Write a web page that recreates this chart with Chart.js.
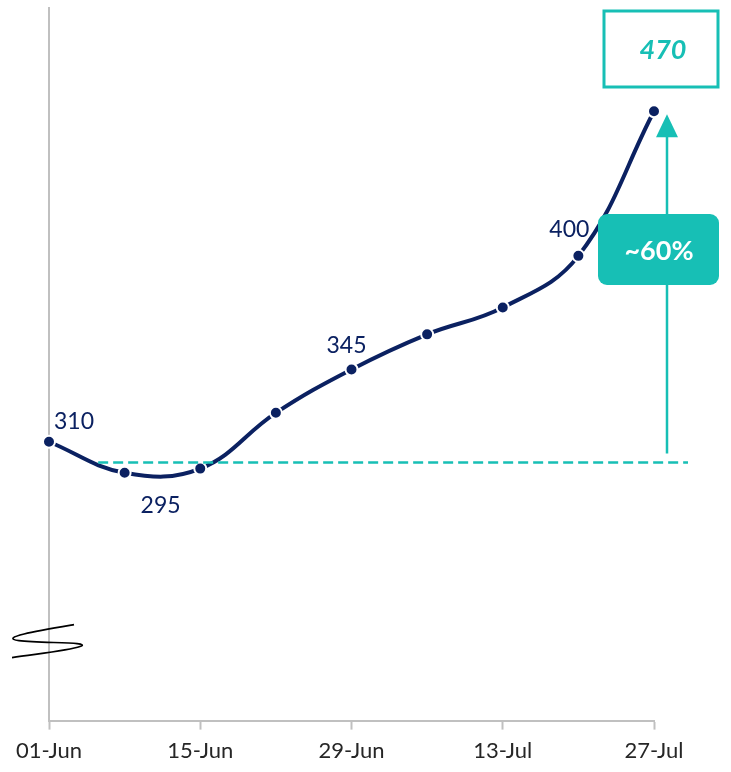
<!DOCTYPE html>
<html>
<head>
<meta charset="utf-8">
<script src="https://cdn.jsdelivr.net/npm/chart.js@4.4.1/dist/chart.umd.min.js"></script>
<style>
  html, body { margin: 0; padding: 0; background: #fff; }
  .wrap { width: 731px; height: 772px; position: relative; }
</style>
</head>
<body>
<div class="wrap"><canvas id="growth"></canvas></div>
<script>
// weekly readings
const weeks = ['01-Jun', '08-Jun', '15-Jun', '22-Jun', '29-Jun', '06-Jul', '13-Jul', '20-Jul', '27-Jul'];
const values = [310, 295, 297, 324, 345, 362, 375, 400, 470];
const labelledPoints = [0, 1, 4, 7];
const baseline = 300;

const NAVY = '#0b2161';
const TEAL = '#17bfb5';
const FONT = 'Lato, "Open Sans", sans-serif';

// dashed baseline, arrow, boxes, value labels and the axis-break squiggle
const overlay = {
  id: 'overlay',
  afterDatasetsDraw(chart) {
    const { ctx, chartArea: a, scales: { x, y } } = chart;
    const meta = chart.getDatasetMeta(0);
    const last = meta.data[meta.data.length - 1];
    const yBase = y.getPixelForValue(baseline);
    const arrowX = last.x + 13;

    ctx.save();

    // baseline
    ctx.strokeStyle = TEAL;
    ctx.lineWidth = 2.5;
    ctx.setLineDash([10, 5]);
    ctx.beginPath();
    ctx.moveTo(x.getPixelForValue(0.65), yBase);
    ctx.lineTo(a.right + 34, yBase);
    ctx.stroke();
    ctx.setLineDash([]);

    // arrow up to the last value
    const tipY = last.y + 3;
    ctx.beginPath();
    ctx.moveTo(arrowX, yBase - 9);
    ctx.lineTo(arrowX, tipY + 20);
    ctx.stroke();
    ctx.fillStyle = TEAL;
    ctx.beginPath();
    ctx.moveTo(arrowX, tipY);
    ctx.lineTo(arrowX - 11, tipY + 23);
    ctx.lineTo(arrowX + 11, tipY + 23);
    ctx.closePath();
    ctx.fill();

    // outlined box with the latest value
    const endVal = values[values.length - 1];
    ctx.lineWidth = 3;
    ctx.strokeRect(arrowX - 63, 11, 114, 76);
    ctx.font = 'italic bold 27px ' + FONT;
    ctx.textAlign = 'center';
    ctx.textBaseline = 'middle';
    ctx.fillText(String(endVal), arrowX - 4, 50);

    // growth badge
    const pct = Math.round((endVal / baseline - 1) * 10) * 10;
    ctx.beginPath();
    ctx.roundRect(arrowX - 69, 214, 121, 71, 9);
    ctx.fill();
    ctx.fillStyle = '#fff';
    ctx.font = 'bold 27px ' + FONT;
    ctx.fillText('~' + pct + '%', arrowX - 8, 251);

    // value labels
    ctx.fillStyle = NAVY;
    ctx.font = '23px ' + FONT;
    const offsets = { 0: [25, -20], 1: [36, 33], 4: [-5, -24], 7: [-9, -26] };
    labelledPoints.forEach(i => {
      const p = meta.data[i];
      const [dx, dy] = offsets[i];
      ctx.fillText(String(values[i]), p.x + dx, p.y + dy);
    });

    // axis break
    const bx = a.left, by = a.bottom - 82;
    ctx.strokeStyle = '#000';
    ctx.lineWidth = 1.6;
    ctx.beginPath();
    ctx.moveTo(bx + 25, by - 14);
    ctx.bezierCurveTo(bx - 10, by - 8, bx - 52, by - 1, bx - 30, by + 2);
    ctx.bezierCurveTo(bx - 8, by + 5, bx + 45, by + 3, bx + 31, by + 8);
    ctx.bezierCurveTo(bx + 20, by + 12, bx - 10, by + 15, bx - 37, by + 19);
    ctx.stroke();

    ctx.restore();
  }
};

new Chart(document.getElementById('growth').getContext('2d'), {
  type: 'line',
  data: {
    labels: weeks,
    datasets: [{
      data: values,
      borderColor: NAVY,
      borderWidth: 4,
      tension: 0.4,
      pointRadius: 6,
      pointBackgroundColor: NAVY,
      pointBorderColor: '#fff',
      pointBorderWidth: 2,
      clip: false
    }]
  },
  options: {
    responsive: true,
    maintainAspectRatio: false,
    animation: false,
    layout: { padding: { left: 41, right: 77, top: 5, bottom: 0 } },
    plugins: { legend: { display: false }, tooltip: { enabled: false } },
    scales: {
      x: {
        grid: {
          drawOnChartArea: false,
          tickLength: 9,
          tickWidth: 2,
          tickColor: c => (c.index % 2 ? 'rgba(0,0,0,0)' : '#c0c0c0')
        },
        border: { color: '#c0c0c0', width: 2 },
        ticks: {
          autoSkip: false,
          maxRotation: 0,
          padding: 8,
          color: '#262626',
          font: { family: FONT, size: 22 },
          callback: (v, i) => (i % 2 ? '' : weeks[i])
        }
      },
      y: {
        min: 175,
        max: 520,
        grid: { display: false },
        border: { color: '#c0c0c0', width: 2 },
        ticks: { display: false }
      }
    }
  },
  plugins: [overlay]
});
</script>
</body>
</html>
